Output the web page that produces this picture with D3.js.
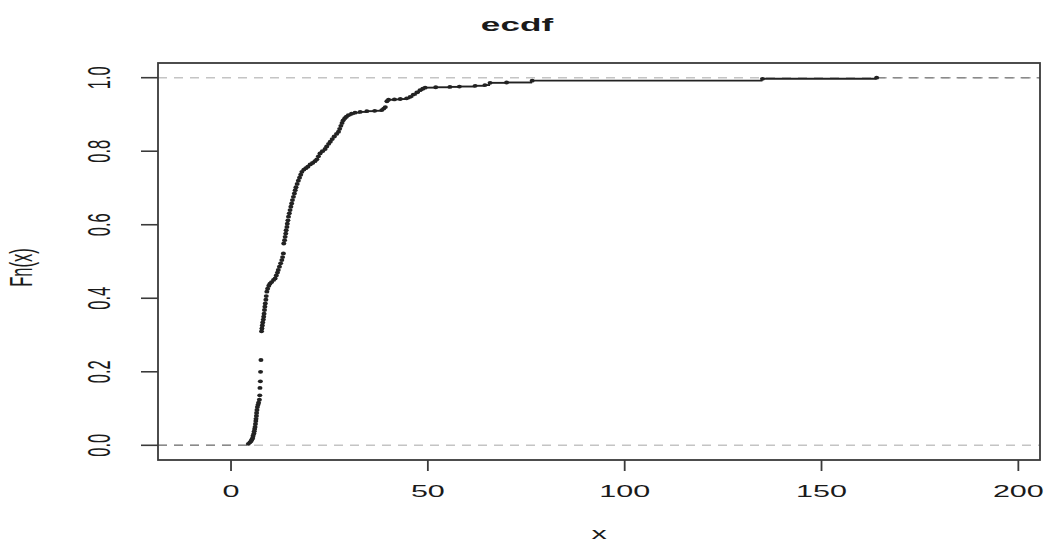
<!DOCTYPE html>
<html>
<head>
<meta charset="utf-8">
<script src="https://cdn.jsdelivr.net/npm/d3@7"></script>
<style>
  html, body { margin: 0; padding: 0; background: #fff; }
  svg { display: block; }
  text { font-family: "Liberation Sans", Arial, Helvetica, sans-serif; fill: #1a1a1a; }
</style>
</head>
<body>
<svg id="chart" width="1047" height="542"></svg>
<script>
// Empirical CDF: knot positions and the value of Fn just after each knot
const knots = [
  4.4, 4.8, 5.1, 5.3, 5.5, 5.6, 5.8, 5.9, 6.0, 6.1,
  6.2, 6.3, 6.35, 6.45, 6.5, 6.6, 6.7, 6.85, 7.0, 7.2,
  7.3, 7.35, 7.45, 7.5, 7.6, 7.75, 7.85, 7.95, 8.05, 8.2,
  8.3, 8.4, 8.5, 8.6, 8.7, 8.85, 8.95, 9.1, 9.3, 9.6,
  9.9, 10.3, 10.8, 11.2, 11.5, 11.8, 12.0, 12.3, 12.6, 12.9,
  13.1, 13.3, 13.4, 13.6, 13.75, 13.9, 14.0, 14.2, 14.3, 14.45,
  14.6, 14.8, 15.0, 15.2, 15.4, 15.6, 15.85, 16.1, 16.3, 16.5,
  16.8, 17.1, 17.4, 17.7, 18.0, 18.5, 19.0, 19.5, 20.1, 20.7,
  21.3, 21.8, 22.2, 22.6, 23.2, 23.9, 24.3, 24.8, 25.2, 25.7,
  26.2, 26.8, 27.3, 27.6, 27.9, 28.2, 28.5, 28.9, 29.3, 29.8,
  30.6, 31.5, 32.8, 34.5, 36.5, 38.3, 38.8, 39.2, 39.6, 40.0,
  41.5, 43.0, 44.6, 45.5, 46.3, 47.2, 48.0, 48.7, 49.3, 52.0,
  55.6, 58.0, 62.0, 64.5, 65.8, 70.0, 76.5, 135.0, 164.0
];
const fnValues = [
  0.004, 0.008, 0.012, 0.016, 0.020, 0.026, 0.032, 0.038, 0.044, 0.050,
  0.058, 0.066, 0.072, 0.080, 0.088, 0.096, 0.104, 0.110, 0.116, 0.124,
  0.136, 0.156, 0.174, 0.200, 0.232, 0.310, 0.318, 0.326, 0.334, 0.342,
  0.350, 0.358, 0.368, 0.377, 0.386, 0.396, 0.406, 0.418, 0.426, 0.434,
  0.440, 0.444, 0.450, 0.454, 0.462, 0.470, 0.477, 0.486, 0.495, 0.504,
  0.512, 0.522, 0.549, 0.558, 0.567, 0.576, 0.585, 0.594, 0.603, 0.612,
  0.622, 0.631, 0.640, 0.649, 0.658, 0.667, 0.676, 0.685, 0.694, 0.702,
  0.711, 0.720, 0.728, 0.736, 0.744, 0.750, 0.754, 0.758, 0.764, 0.768,
  0.773, 0.778, 0.786, 0.794, 0.800, 0.806, 0.813, 0.820, 0.826, 0.833,
  0.840, 0.847, 0.853, 0.861, 0.869, 0.877, 0.884, 0.890, 0.894, 0.898,
  0.902, 0.905, 0.907, 0.909, 0.910, 0.912, 0.916, 0.920, 0.936, 0.940,
  0.941, 0.942, 0.944, 0.948, 0.954, 0.960, 0.966, 0.970, 0.973, 0.974,
  0.975, 0.976, 0.978, 0.980, 0.986, 0.987, 0.992, 0.997, 1.000
];
const xTicks = [0, 50, 100, 150, 200];
const yTicks = [0, 0.2, 0.4, 0.6, 0.8, 1.0];
const yTickLabels = ["0.0", "0.2", "0.4", "0.6", "0.8", "1.0"];
const refLevels = [0, 1];
const titleText = "ecdf";
const xLabel = "x";
const yLabel = "Fn(x)";

const svg = d3.select("#chart");
const box = { left: 158, right: 1040, top: 63, bottom: 460 };
const sx = 1.85; // horizontal stretch of the lettering

const x = d3.scaleLinear().domain([-18.55, 205.5]).range([box.left, box.right]);
const y = d3.scaleLinear().domain([-0.04, 1.04]).range([box.bottom, box.top]);

// reference lines at 0 and 1
svg.append("g").selectAll("line").data(refLevels).join("line")
  .attr("x1", box.left).attr("x2", box.right)
  .attr("y1", d => y(d)).attr("y2", d => y(d))
  .attr("stroke", "#c4c4c4").attr("stroke-width", 1.4)
  .attr("stroke-dasharray", "9,7");

// tails of the step function before the first and after the last knot
const tails = [
  { x0: x.domain()[0], x1: knots[0], v: 0 },
  { x0: knots[knots.length - 1], x1: x.domain()[1], v: 1 }
];
svg.append("g").selectAll("line").data(tails).join("line")
  .attr("x1", d => x(d.x0)).attr("x2", d => x(d.x1))
  .attr("y1", d => y(d.v)).attr("y2", d => y(d.v))
  .attr("stroke", "#8a8a8a").attr("stroke-width", 1.4)
  .attr("stroke-dasharray", "9,7");

// horizontal steps
const steps = knots.slice(0, -1).map((k, i) => ({ x0: k, x1: knots[i + 1], v: fnValues[i] }));
svg.append("g").selectAll("line").data(steps).join("line")
  .attr("x1", d => x(d.x0)).attr("x2", d => x(d.x1))
  .attr("y1", d => y(d.v)).attr("y2", d => y(d.v))
  .attr("stroke", "#222").attr("stroke-width", 1.9);

// knot points
svg.append("g").selectAll("ellipse").data(knots).join("ellipse")
  .attr("cx", d => x(d)).attr("cy", (d, i) => y(fnValues[i]))
  .attr("rx", 2.5).attr("ry", 1.9)
  .attr("fill", "#222");

// plot frame
svg.append("rect")
  .attr("x", box.left).attr("y", box.top)
  .attr("width", box.right - box.left).attr("height", box.bottom - box.top)
  .attr("fill", "none").attr("stroke", "#3a3a3a").attr("stroke-width", 1.8);

// x axis
const xAxis = svg.append("g");
xAxis.selectAll("line").data(xTicks).join("line")
  .attr("x1", d => x(d)).attr("x2", d => x(d))
  .attr("y1", box.bottom).attr("y2", box.bottom + 11)
  .attr("stroke", "#3a3a3a").attr("stroke-width", 1.8);
xAxis.selectAll("text").data(xTicks).join("text")
  .attr("transform", d => `translate(${x(d)},497) scale(${sx},1)`)
  .attr("text-anchor", "middle").attr("font-size", 16.5)
  .text(d => d);

// y axis
const yAxis = svg.append("g");
yAxis.selectAll("line").data(yTicks).join("line")
  .attr("x1", box.left - 17).attr("x2", box.left)
  .attr("y1", d => y(d)).attr("y2", d => y(d))
  .attr("stroke", "#3a3a3a").attr("stroke-width", 1.6);
yAxis.selectAll("text").data(yTicks).join("text")
  .attr("transform", d => `translate(110,${y(d)}) scale(${sx},1) rotate(-90)`)
  .attr("text-anchor", "middle").attr("font-size", 16.5)
  .text((d, i) => yTickLabels[i]);

// titles
svg.append("text")
  .attr("transform", `translate(517,31) scale(${sx},1)`)
  .attr("text-anchor", "middle").attr("font-size", 19).attr("font-weight", "bold")
  .text(titleText);
svg.append("text")
  .attr("transform", `translate(${(box.left + box.right) / 2},539) scale(${sx},1)`)
  .attr("text-anchor", "middle").attr("font-size", 16.5)
  .text(xLabel);
svg.append("text")
  .attr("transform", `translate(32,${(box.top + box.bottom) / 2 + 6}) scale(${sx},1) rotate(-90)`)
  .attr("text-anchor", "middle").attr("font-size", 16.5)
  .text(yLabel);
</script>
</body>
</html>
